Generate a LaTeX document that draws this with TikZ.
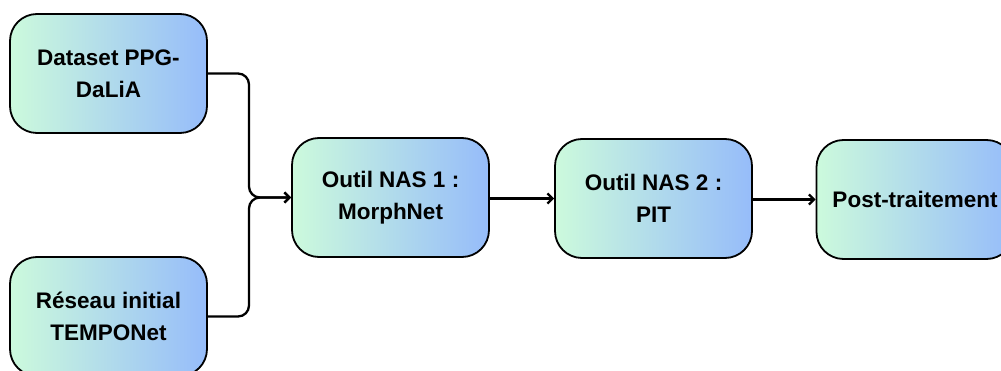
\documentclass[tikz,border=0pt]{standalone}
\usepackage{fontspec}
\setmainfont{Liberation Sans}
\usetikzlibrary{arrows.meta}
\definecolor{boxleft}{RGB}{204,250,220}
\definecolor{boxright}{RGB}{150,188,250}
\begin{document}
\begin{tikzpicture}[x=1pt,y=-1pt,
  stagebox/.style={draw=black, line width=1.8pt, rounded corners=27pt,
    left color=boxleft, right color=boxright,
    minimum width=197pt, minimum height=119pt, inner sep=0pt,
    align=center, font=\fontsize{22.5}{32}\selectfont\bfseries},
  flow/.style={draw=black, line width=2.3pt, rounded corners=11pt,
    -{Straight Barb[length=5pt,width=10pt,line width=2.3pt]}}]
  \useasboundingbox (0,0) rectangle (1001,371);
  \clip (0,0) rectangle (1001,371);
  \fill[white] (0,0) rectangle (1001,371);

  % pipeline stages
  \node[stagebox] (data) at (108.5,73.5) {Dataset PPG-\\DaLiA};
  \node[stagebox] (net)  at (108.5,316.5) {Réseau initial\\TEMPONet};
  \node[stagebox] (nas1) at (390.5,197.5) {Outil NAS 1 :\\MorphNet};
  \node[stagebox] (nas2) at (653.5,198.5) {Outil NAS 2 :\\PIT};
  \node[stagebox] (post) at (915,199.5) {Post-traitement};

  % both inputs merge into the first NAS tool
  \coordinate (join) at (249,197.5);
  \draw[flow] (data.east) -- (join |- data.east) -- (join) -- (nas1.west);
  \draw[flow] (net.east) -- (join |- net.east) -- (join) -- (nas1.west);

  % sequential stages
  \draw[flow] (nas1.east |- nas2.west) -- (nas2.west);
  \draw[flow] (nas2.east |- post.west) -- (post.west);
\end{tikzpicture}
\end{document}
